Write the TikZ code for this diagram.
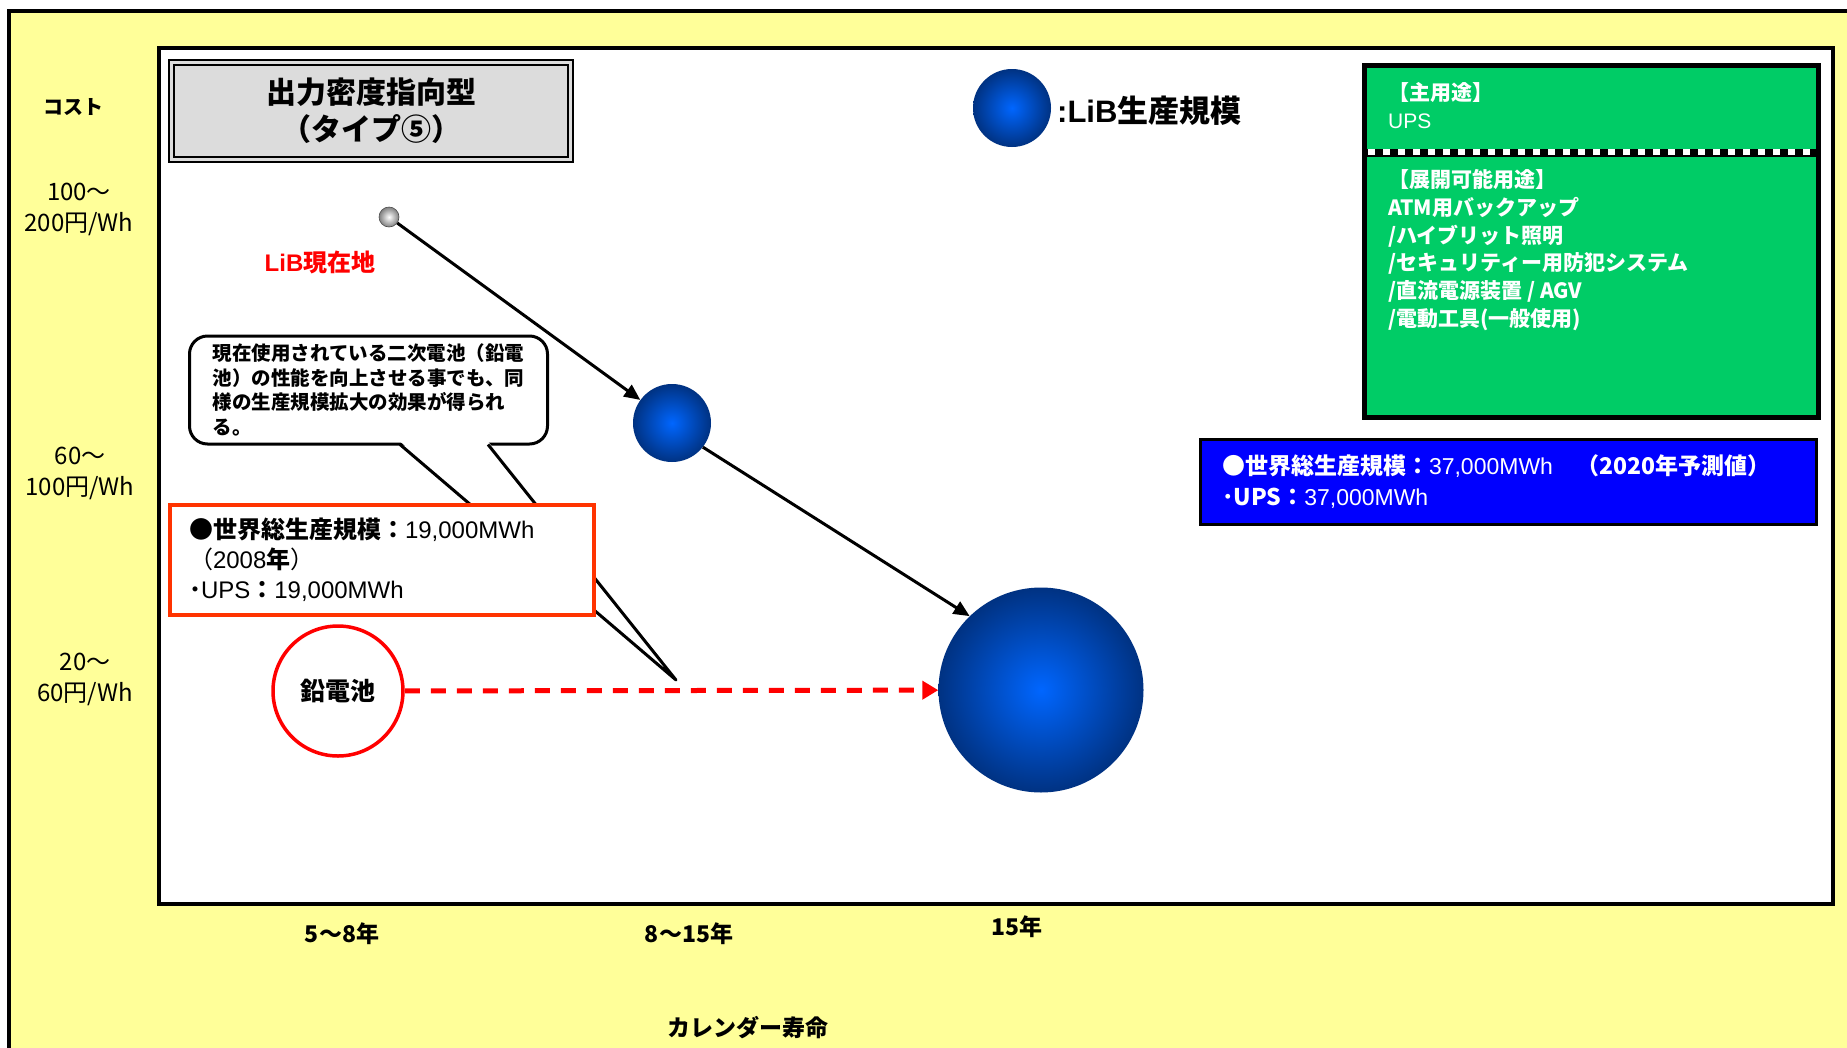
\documentclass[tikz,border=0pt]{standalone}
\usepackage{fontspec}
\setmainfont{Noto Sans CJK JP}
\newfontfamily\arial{Liberation Sans}
\usetikzlibrary{arrows.meta}

\definecolor{framey}{RGB}{255,255,153}
\definecolor{usegreen}{RGB}{0,204,102}
\definecolor{boxred}{RGB}{255,51,0}
\definecolor{ballin}{RGB}{0,102,255}
\definecolor{ballout}{RGB}{0,50,130}
\definecolor{titlegray}{RGB}{220,220,220}

\newcommand\fsz[2]{\fontsize{#1pt}{#2pt}\selectfont}

\begin{document}
\begin{tikzpicture}[x=1pt,y=-1pt,
  lib/.style={circle,inner sep=0pt,inner color=ballin,outer color=ballout},
  arrow/.style={line width=3pt,-{Triangle[length=16pt,width=14pt]}},
  axis/.style={font=\fsz{24}{31},align=center},
  tick/.style={font=\fsz{23}{28}\bfseries}]

  \useasboundingbox (0,0) rectangle (1847,1047);
  \fill[white] (0,0) rectangle (1847,1047);
  \draw[line width=4pt,fill=framey] (9,11) rectangle (1900,1100);
  \draw[line width=4pt,fill=white] (159,48) rectangle (1833,904);

  % title and legend
  \node[draw,line width=2pt,double=titlegray,double distance=3pt,fill=titlegray,
        minimum width=399pt,minimum height=97pt,align=center,
        font=\fsz{30}{37}\bfseries] (title) at (371,111) {出力密度指向型\\（タイプ⑤）};
  \node[lib,minimum size=78pt] (key) at (1012,108) {};
  \node[anchor=west,inner sep=0pt,font=\fsz{31}{34}\bfseries] (keytext) at (1057,111) {{\arial :LiB}生産規模};

  % applications
  \node[draw,line width=5pt,fill=usegreen,minimum width=454pt,minimum height=352pt] (uses) at (1591.5,241.5) {};
  \draw[line width=8pt] (1366,153) -- (1817,153);
  \draw[white,line width=6pt,dash pattern=on 7pt off 8pt] (1368,152) -- (1817,152);
  \node[anchor=west,inner sep=0pt,text=white,align=left,font=\fsz{21}{28}\bfseries] (main) at (1388,106)
    {【主用途】\\{\arial\mdseries UPS}};
  \node[anchor=west,inner sep=0pt,text=white,align=left,font=\fsz{21}{27.8}\bfseries] (more) at (1388,250)
    {【展開可能用途】\\ATM用バックアップ\\/ハイブリット照明\\/セキュリティー用防犯システム\\/直流電源装置 / AGV\\/電動工具(一般使用)};

  \node[draw,line width=3pt,fill=blue,text=white,minimum width=616pt,minimum height=85pt,
        text width=573pt,inner xsep=21.5pt,align=left,font=\fsz{23}{31}] (world20) at (1508.5,482)
    {\textbf{●世界総生産規模：}{\arial 37,000MWh}\textbf{　（2020年予測値）}\\\textbf{･UPS：}{\arial 37,000MWh}};

  % callout
  \node[draw,line width=3pt,fill=white,rounded corners=18pt,minimum width=358pt,minimum height=108pt,
        align=left,font=\fsz{19.5}{24.5}\bfseries] (note) at (368.5,390)
    {現在使用されている二次電池（鉛電\\池）の性能を向上させる事でも、同\\様の生産規模拡大の効果が得られ\\る。};
  \coordinate (tip) at (676,680);
  \coordinate (tailL) at (400,444.5);
  \coordinate (tailR) at (488,444.5);
  \fill[white] ([yshift=3pt]tailL) -- (tip) -- ([yshift=3pt]tailR) -- cycle;
  \draw[line width=3pt,line join=round] (tailL) -- (tip) -- (tailR);

  \node[draw=boxred,line width=4pt,fill=white,minimum width=424pt,minimum height=110pt,
        text width=386pt,inner xsep=19pt,align=left,font=\fsz{24}{30}] (world08) at (382,560)
    {\textbf{●世界総生産規模：}{\arial 19,000MWh}\\（{\arial 2008}\textbf{年}）\\\textbf{･}{\arial UPS}\textbf{：}{\arial 19,000MWh}};

  % batteries
  \node[circle,inner sep=0pt,minimum size=20pt,draw=gray!60!black,line width=0.6pt,
        inner color=white,outer color=gray] (now) at (389,217) {};
  \node[text=red,font=\fsz{24}{28}\bfseries] (nowtext) at (320,262) {{\arial LiB}現在地};
  \node[lib,minimum size=78pt] (mid) at (672,423) {};
  \node[lib,minimum size=205pt] (big) at (1041,690) {};
  \node[circle,draw=red,line width=3.5pt,fill=white,minimum size=130pt,
        font=\fsz{25}{28}\bfseries] (lead) at (338,691) {鉛電池};

  \draw[arrow] (now) -- (mid);
  \draw[arrow] (mid.-38) -- (big.134);
  \draw[red,line width=5pt,dash pattern=on 15pt off 11pt,-{Triangle[length=16pt,width=18pt]}] (lead) -- (big);

  % axes
  \node[font=\fsz{20}{24}\bfseries] (cost) at (73,107) {コスト};
  \node[axis] (c1) at (79,209) {100～\\200円/Wh};
  \node[axis] (c2) at (80,473.5) {60～\\100円/Wh};
  \node[axis] (c3) at (85,679.5) {20～\\60円/Wh};
  \node[tick] (t1) at (342,934) {5～8年};
  \node[tick] (t2) at (689,934) {8～15年};
  \node[tick] (t3) at (1017,927) {15年};
  \node[tick] (life) at (748,1028) {カレンダー寿命};

\end{tikzpicture}
\end{document}
